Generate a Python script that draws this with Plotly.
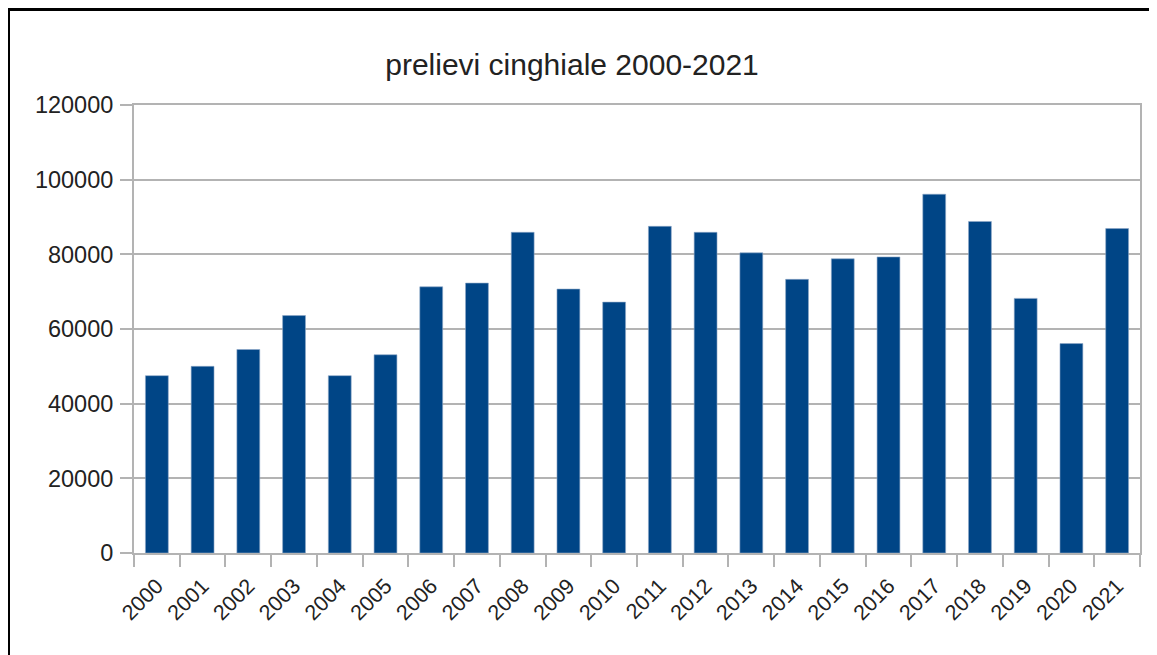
import plotly.graph_objects as go

years = [str(y) for y in range(2000, 2022)]
prelievi = [47500, 50000, 54500, 63600, 47500, 53100, 71300, 72300, 85900, 70700,
            67200, 87500, 85900, 80400, 73300, 78800, 79300, 96100, 88800, 68200,
            56100, 86900]
y_ticks = [0, 20000, 40000, 60000, 80000, 100000, 120000]
title_text = "prelievi cinghiale 2000-2021"

OFF = 8  # page body margin
W, H = 1157 - OFF, 655 - OFF
L, R, T, B = 134 - OFF, 1140 - OFF, 105 - OFF, 553 - OFF

fig = go.Figure(go.Bar(
    x=years, y=prelievi,
    marker=dict(color="#004586", line=dict(color="#8fa8c8", width=0.6)),
))

def px_x(p):
    return (p - OFF - L) / (R - L)

def px_y(p):
    return (B - (p - OFF)) / (B - T)

frame = "M {0},{1} L {0},{2} L {3},{2}".format(px_x(8.5), px_y(670), px_y(9.5), px_x(1170))

fig.update_layout(
    width=W, height=H,
    margin=dict(l=L, r=W - R, t=T, b=H - B),
    paper_bgcolor="white", plot_bgcolor="white",
    bargap=0.5,
    showlegend=False,
    font=dict(family="Liberation Sans, Arial, sans-serif", size=23.5, color="#222222"),
    title=dict(text=title_text, x=(572 - OFF) / W, xanchor="center", xref="container",
               y=1 - (64 - OFF) / H, yanchor="middle", yref="container",
               font=dict(size=30, color="#222222")),
    shapes=[dict(type="path", path=frame, xref="paper", yref="paper",
                 line=dict(color="black", width=3), layer="above")],
)
fig.update_xaxes(
    type="category", tickson="boundaries", ticks="outside", ticklen=12,
    tickcolor="#b3b3b3", tickwidth=2, tickangle=-45,
    tickfont=dict(size=21.5),
    showline=True, linecolor="#b3b3b3", linewidth=2, mirror=True,
    showgrid=False, ticklabelstandoff=10,
)
fig.update_yaxes(
    range=[0, 120000], tickvals=y_ticks, ticktext=[str(v) for v in y_ticks],
    ticks="outside", ticklen=12, tickcolor="#b3b3b3", tickwidth=2,
    showline=True, linecolor="#b3b3b3", linewidth=2, mirror=True,
    showgrid=True, gridcolor="#b3b3b3", gridwidth=2, zeroline=False,
    ticklabelstandoff=2,
)

fig.write_html("out.html")
